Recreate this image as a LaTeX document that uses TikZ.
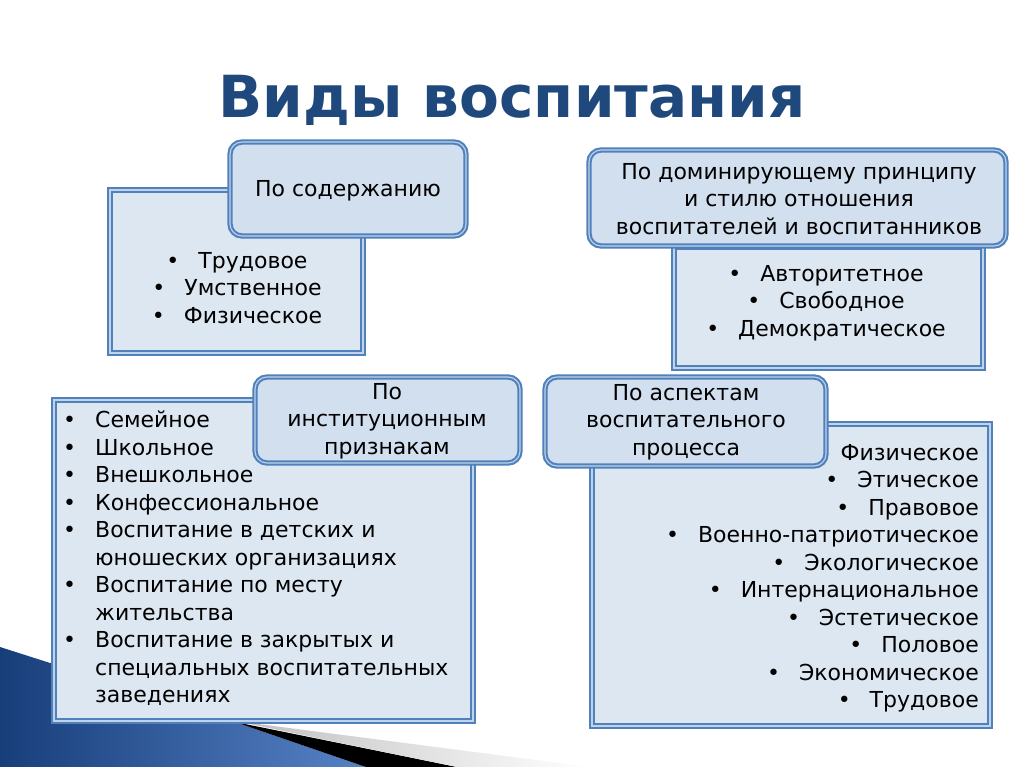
\documentclass[tikz,border=0pt]{standalone}
\usepackage{fontspec}
\setmainfont{DejaVu Sans}
\usetikzlibrary{shadows}
\definecolor{frameblue}{RGB}{79,129,189}
\definecolor{paleblue}{RGB}{221,231,242}
\definecolor{headblue}{RGB}{210,223,239}
\definecolor{titleblue}{RGB}{31,73,125}
\definecolor{swooshdark}{RGB}{24,62,122}
\definecolor{swooshlight}{RGB}{86,130,198}
\newcommand{\bul}{\textbullet\hspace{19pt}}
\begin{document}
\begin{tikzpicture}[x=1pt,y=-1pt,
  listbox/.style={draw=frameblue, double=frameblue!35!white, double distance=1.1pt, line width=2.1pt, fill=paleblue, drop shadow={opacity=0.25, shadow xshift=2pt, shadow yshift=-2pt}},
  headbox/.style={listbox, fill=headblue, rounded corners=12pt},
  txt/.style={font=\fontsize{22}{27.5}\selectfont, inner sep=0pt}]
\useasboundingbox (0,0) rectangle (1024,767);
\fill[white] (0,0) rectangle (1024,767);
\shade[left color=swooshdark, right color=swooshlight] (0,647) -- (235,722) -- (366,767) -- (0,767) -- cycle;
\fill[black] (235,722) -- (457,767) -- (366,767) -- cycle;
\shade[left color=gray!50, right color=white] (235,721) -- (590,767) -- (457,767) -- cycle;
\node[text=titleblue, font=\fontsize{58}{62}\selectfont\bfseries] (title) at (512,100) {Виды воспитания};
\node[listbox, minimum width=253pt, minimum height=163pt] (soder) at (236.5,271.5) {};
\node[txt, align=center] (soderlist) at (237,288) {\bul Трудовое\\ \bul Умственное\\ \bul Физическое};
\node[headbox, minimum width=236pt, minimum height=94pt] (soderhead) at (348,189) {};
\node[txt] (sodertext) at (348,191) {По содержанию};
\node[listbox, minimum width=309pt, minimum height=121pt] (stil) at (828.5,307.5) {};
\node[txt, align=center] (stillist) at (826,303) {\bul Авторитетное\\ \bul Свободное\\ \bul Демократическое};
\node[headbox, minimum width=417pt, minimum height=96pt] (stilhead) at (797.5,198) {};
\node[txt, align=center] (stiltext) at (799,199) {По доминирующему принципу\\ и стилю отношения\\ воспитателей и воспитанников};
\node[listbox, minimum width=419pt, minimum height=321pt] (inst) at (263.5,560.5) {};
\node[txt, align=left, anchor=west] (instlist) at (63,558.5) {\bul Семейное\\ \bul Школьное\\ \bul Внешкольное\\ \bul Конфессиональное\\ \bul Воспитание в детских и\\ \phantom{\bul}юношеских организациях\\ \bul Воспитание по месту\\ \phantom{\bul}жительства\\ \bul Воспитание в закрытых и\\ \phantom{\bul}специальных воспитательных\\ \phantom{\bul}заведениях};
\node[headbox, minimum width=265pt, minimum height=86pt] (insthead) at (387.5,420) {};
\node[txt, align=center] (insttext) at (387,421) {По\\ институционным\\ признакам};
\node[listbox, minimum width=398pt, minimum height=302pt] (aspekt) at (791,575) {};
\node[txt, align=right, anchor=east] (aspektlist) at (979,578.5) {\bul Физическое\\ \bul Этическое\\ \bul Правовое\\ \bul Военно-патриотическое\\ \bul Экологическое\\ \bul Интернациональное\\ \bul Эстетическое\\ \bul Половое\\ \bul Экономическое\\ \bul Трудовое};
\node[headbox, minimum width=281pt, minimum height=89pt] (aspekthead) at (685.5,421.5) {};
\node[txt, align=center] (aspekttext) at (686,422) {По аспектам\\ воспитательного\\ процесса};
\end{tikzpicture}
\end{document}
